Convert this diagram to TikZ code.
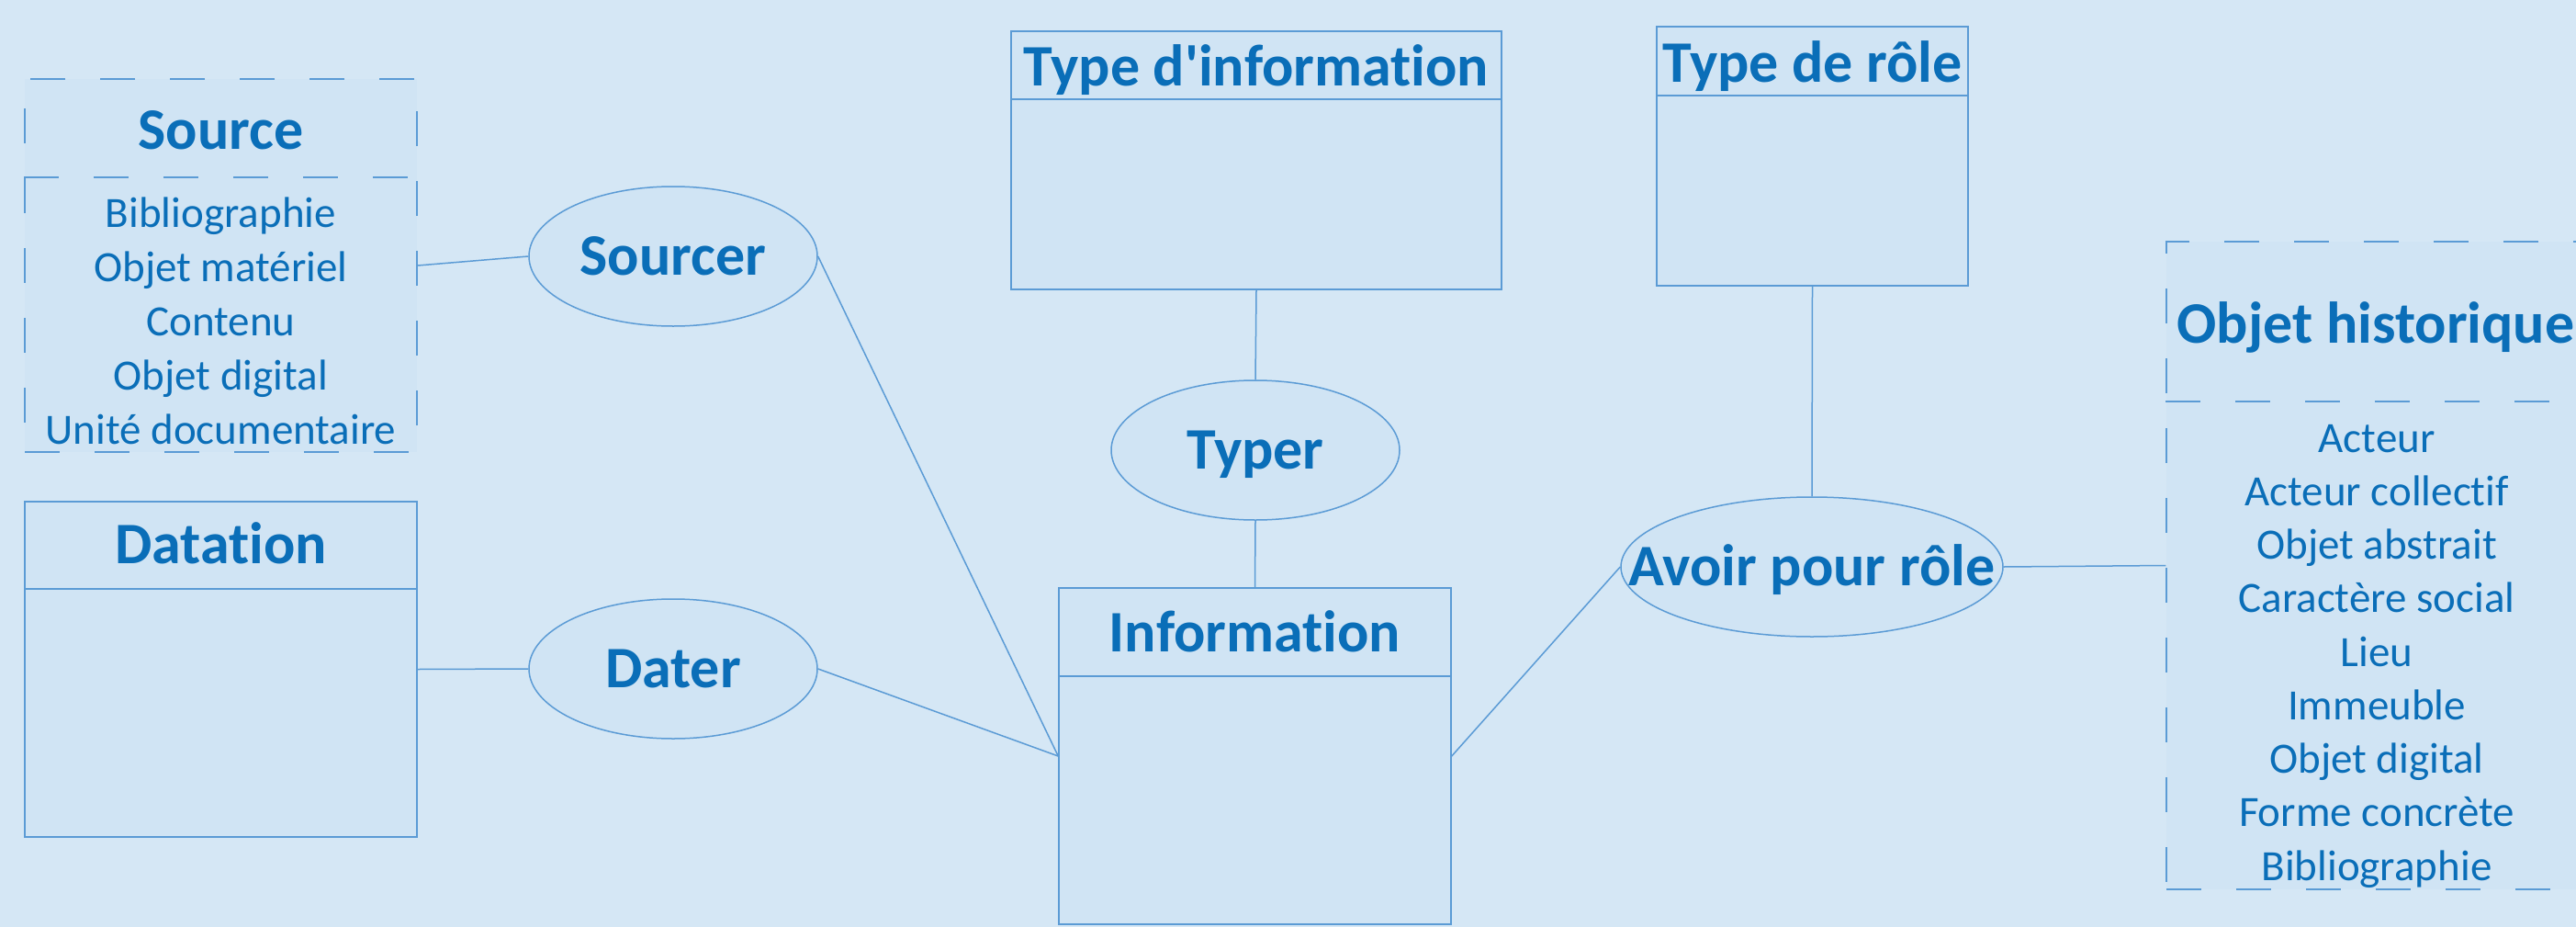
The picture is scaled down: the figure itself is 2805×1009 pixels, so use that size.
\documentclass[tikz,border=0pt]{standalone}
\usepackage{fontspec}
\setmainfont{Carlito}[Ligatures={TeXOff,NoCommon}]
\usetikzlibrary{shapes.geometric}
\definecolor{bg}{RGB}{213,231,245}
\definecolor{boxfill}{RGB}{208,228,244}
\definecolor{txt}{RGB}{10,110,184}
\definecolor{ln}{RGB}{91,155,213}
\begin{document}
\begin{tikzpicture}[x=1pt,y=-1pt,
  entity/.style={draw=ln, line width=1.5pt, fill=boxfill, rectangle, inner sep=0pt},
  dentity/.style={entity, dash pattern=on 38pt off 38pt},
  rel/.style={draw=ln, line width=1.5pt, fill=boxfill, ellipse, inner sep=0pt,
    minimum width=314pt, minimum height=152pt, text=txt,
    font=\fontsize{64}{70}\selectfont\bfseries, text height=40pt, text depth=0pt},
  ttl/.style={text=txt, font=\fontsize{64}{70}\selectfont\bfseries, anchor=base, inner sep=0pt},
  item/.style={text=txt, font=\fontsize{47}{59}\selectfont, anchor=base, inner sep=0pt},
  conn/.style={draw=ln, line width=1.5pt},
  dconn/.style={conn, dash pattern=on 38pt off 38pt}]
\useasboundingbox (0,0) rectangle (2805,1009);
\clip (0,0) rectangle (2805,1009);
\fill[bg] (0,0) rectangle (2805,1009);

% entities
\node[dentity, minimum width=427pt, minimum height=406pt] (src) at (240.5,289) {};
\node[entity, minimum width=427pt, minimum height=365pt] (dat) at (240.5,728.5) {};
\node[entity, minimum width=534pt, minimum height=281pt] (tinf) at (1368,174.5) {};
\node[entity, minimum width=339pt, minimum height=282pt] (trole) at (1973.5,170) {};
\node[entity, minimum width=427pt, minimum height=366pt] (info) at (1366.5,823) {};
\node[dentity, minimum width=458pt, minimum height=705pt] (obj) at (2588,615.5) {};

% header dividers
\draw[dconn] (src.west |- 0,193) -- (src.east |- 0,193);
\draw[conn] (dat.west |- 0,641) -- (dat.east |- 0,641);
\draw[conn] (tinf.west |- 0,108) -- (tinf.east |- 0,108);
\draw[conn] (trole.west |- 0,104) -- (trole.east |- 0,104);
\draw[conn] (info.west |- 0,736) -- (info.east |- 0,736);
\draw[dconn] (obj.west |- 0,437) -- (obj.east |- 0,437);

% titles
\node[ttl] (tsrc) at (240.5,162) {Source};
\node[ttl] (tdat) at (240.5,613) {Datation};
\node[ttl] (ttinf) at (1368,93) {Type d'information};
\node[ttl] (ttrole) at (1973.5,89) {Type de rôle};
\node[ttl] (tinfo) at (1366.5,709) {Information};
\node[ttl] (tobj) at (2587,373) {Objet historique};

% lists
\foreach \t [count=\i from 0] in {Bibliographie, Objet matériel, Contenu, Objet digital, Unité documentaire}
  \node[item] (s\i) at (240.5,{247+59*\i}) {\t};
\foreach \t [count=\i from 0] in {Acteur, Acteur collectif, Objet abstrait, Caractère social, Lieu, Immeuble, Objet digital, Forme concrète, Bibliographie}
  \node[item] (o\i) at (2588,{492+58.25*\i}) {\t};

% relations
\node[rel] (sourcer) at (733,279) {Sourcer};
\node[rel] (dater) at (733,728) {Dater};
\node[rel] (typer) at (1367,490) {Typer};
\node[rel, minimum width=416pt] (avoir) at (1973,617) {\makebox[0pt]{Avoir pour rôle}};

% connectors
\draw[conn] (src.east) -- (sourcer.west);
\draw[conn] (sourcer.east) -- (info.west);
\draw[conn] (dat.east) -- (dater.west);
\draw[conn] (dater.east) -- (info.west);
\draw[conn] (tinf.south) -- (typer.north);
\draw[conn] (typer.south) -- (info.north);
\draw[conn] (trole.south) -- (avoir.north);
\draw[conn] (avoir.west) -- (info.east);
\draw[conn] (avoir.east) -- (obj.west);
\end{tikzpicture}
\end{document}
